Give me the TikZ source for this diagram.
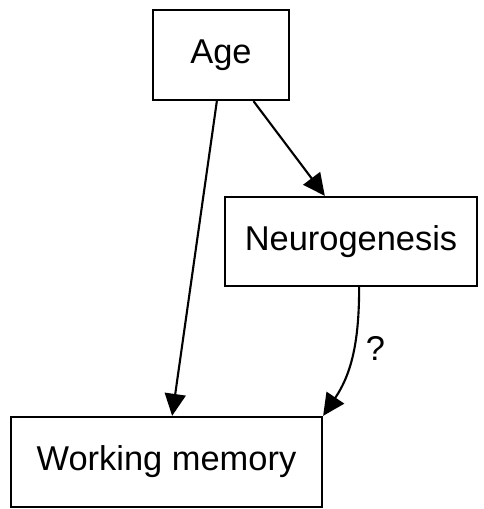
\documentclass[tikz,border=0pt]{standalone}
\usepackage{fontspec}
\setmainfont{Liberation Sans}
\usetikzlibrary{calc,arrows.meta}

\tikzset{
    var/.style={draw, line width=1.3pt, inner sep=0pt, font=\fontsize{19.6}{23}\selectfont},
    link/.style={line width=1.2pt, -{Triangle[length=0.44cm,width=0.42cm]}}
}

\begin{document}
\begin{tikzpicture}[x=0.02cm,y=-0.02cm]
    \useasboundingbox (0,0) rectangle (483,509);
    \node[var, minimum width=2.72cm, minimum height=1.8cm] (Age) at (221,55) {Age};
    \node[var, minimum width=5.04cm, minimum height=1.78cm] (Neuro) at (351,241.5) {Neurogenesis};
    \node[var, minimum width=6.22cm, minimum height=1.8cm] (WM) at (166.5,462) {Working memory};
\draw[link] ($(Age.south west)!0.47!(Age.south east)$) -- ($(WM.north west)!0.518!(WM.north east)$) ;
\draw[link] ($(Age.south west)!0.735!(Age.south east)$) -- ($(Neuro.north west)!0.397!(Neuro.north east)$) ;
\draw[link] ($(Neuro.south west)!0.532!(Neuro.south east)$) to[out=-90,in=56] node[pos=0.45,right=3pt,font=\fontsize{19.6}{23}\selectfont]{?} (WM.north east) ;
  \end{tikzpicture}
\end{document}
